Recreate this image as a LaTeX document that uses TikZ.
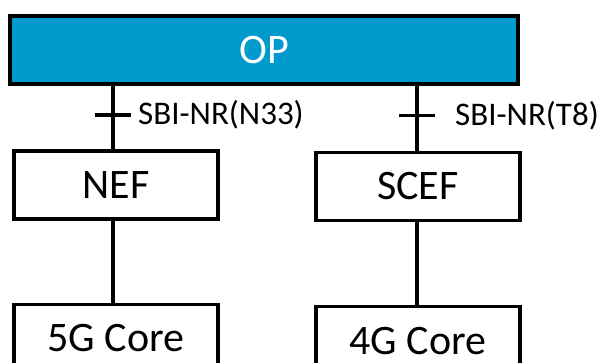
\documentclass[tikz,border=0pt]{standalone}
\usepackage{fontspec}
\setmainfont{Carlito}
\usetikzlibrary{positioning, calc}

\definecolor{opblue}{RGB}{0,154,204}

\begin{document}
\begin{tikzpicture}[x=1pt, y=-1pt,
    box/.style={draw=black, line width=3.2pt, inner sep=0pt,
                minimum width=204pt, minimum height=68pt,
                font=\fontsize{42}{42}\selectfont},
    lbl/.style={inner sep=0pt, font=\fontsize{33}{33}\selectfont},
    link/.style={line width=3.2pt}]

    % Fix the page size
    \useasboundingbox (0,0) rectangle (599,363);
    \clip (0,0) rectangle (599,363);

    % Add the boxes
    \node[box, fill=opblue, text=white, minimum width=508pt] (op)    at (264,50)    {OP};
    \node[box]                                              (nef)   at (116,185)   {NEF};
    \node[box]                                              (scef)  at (418,186.5) {SCEF};
    \node[box, below=82pt of nef]                           (core5)                {5G Core};
    \node[box, below=83pt of scef]                          (core4)                {4G Core};

    % Connect the boxes
    \draw[link] ([xshift=-3pt]nef.north)  -- ([xshift=-3pt]nef.north |- op.south)  coordinate[pos=.54] (t1);
    \draw[link] ([xshift=-1pt]scef.north) -- ([xshift=-1pt]scef.north |- op.south) coordinate[pos=.54] (t2);
    \draw[link] ([xshift=-3pt]nef.south)  -- ([xshift=-3pt]core5.north);
    \draw[link] ([xshift=-1pt]scef.south) -- ([xshift=-1pt]core4.north);

    % Interface marks and labels
    \draw[link] ($(t1)+(-18,0)$) -- ($(t1)+(18,0)$);
    \draw[link] ($(t2)+(-18,0)$) -- ($(t2)+(18,0)$);
    \node[lbl, right=25pt of t1] (n33) {SBI-NR(N33)};
    \node[lbl, right=38pt of t2] (t8)  {SBI-NR(T8)};
\end{tikzpicture}
\end{document}
